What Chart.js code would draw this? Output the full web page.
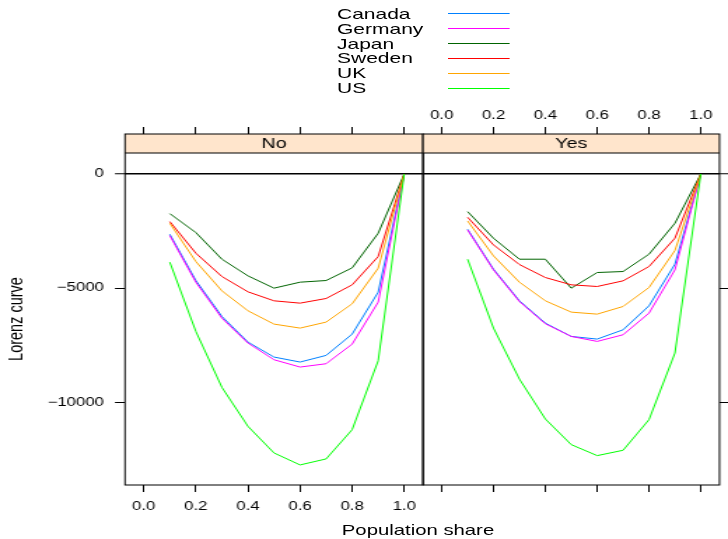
<!DOCTYPE html>
<html>
<head>
<meta charset="utf-8">
<script src="https://cdn.jsdelivr.net/npm/chart.js@4.4.1/dist/chart.umd.min.js"></script>
<style>
  body { margin: 0; background: #fff; overflow: hidden; }
  #wrap { position: absolute; left: 0; top: 0; width: 520px; height: 539px;
          transform: scaleX(1.4); transform-origin: 0 0;
          font-family: 'Liberation Sans', Arial, sans-serif; color: #000; }
  #wrap canvas { position: absolute; left: 0; top: 0; }
  .leg { position: absolute; font-size: 15px; line-height: 15px; white-space: nowrap; }
  .legLine { position: absolute; height: 0; border-top: 1px solid; }
  #xtitle { position: absolute; font-size: 14.5px; white-space: nowrap; transform: translate(-50%, -50%); }
</style>
</head>
<body>
<div id="wrap">
  <div id="legend"></div>
  <canvas id="panelNo" width="520" height="539"></canvas>
  <canvas id="panelYes" width="520" height="539"></canvas>
  <div id="xtitle">Population share</div>
</div>
<script>
// data
const countries = ['Canada', 'Germany', 'Japan', 'Sweden', 'UK', 'US'];
const colors = ['#0080ff', '#ff00ff', '#006400', '#ff0000', '#ffa500', '#00ff00'];
const popShare = [0.1, 0.2, 0.3, 0.4, 0.5, 0.6, 0.7, 0.8, 0.9, 1.0];

const canadaNo  = [-2639, -4666, -6241, -7362, -8018, -8237, -7946, -7012, -5176, 0];
const germanyNo = [-2697, -4739, -6314, -7406, -8136, -8456, -8311, -7450, -5613, 0];
const japanNo   = [-1736, -2566, -3733, -4462, -5001, -4739, -4666, -4112, -2595, 0];
const swedenNo  = [-2085, -3470, -4491, -5161, -5555, -5657, -5453, -4855, -3616, 0];
const ukNo      = [-2158, -3835, -5118, -5992, -6575, -6750, -6487, -5686, -4126, 0];
const usNo      = [-3863, -6896, -9346, -11052, -12218, -12743, -12480, -11198, -8180, 0];

const canadaYes  = [-2420, -4170, -5555, -6532, -7115, -7231, -6824, -5774, -3951, 0];
const germanyYes = [-2449, -4199, -5584, -6561, -7115, -7333, -7042, -6094, -4199, 0];
const japanYes   = [-1648, -2814, -3733, -3733, -5001, -4316, -4272, -3514, -2158, 0];
const swedenYes  = [-1896, -3106, -3966, -4535, -4855, -4928, -4680, -4053, -2814, 0];
const ukYes      = [-2056, -3587, -4739, -5555, -6051, -6138, -5803, -4972, -3353, 0];
const usYes      = [-3733, -6750, -8982, -10731, -11855, -12335, -12101, -10760, -7844, 0];

const shareTicks = [0, 0.2, 0.4, 0.6, 0.8, 1.0];
const lorenzTicks = [0, -5000, -10000];

// layout (real screen px are divided by the horizontal stretch)
const S = 1.4;
const W = 520, H = 539;
const px = x => x / S;
const areaTop = 153, areaBottom = 485, stripH = 19;
const xMin = -0.072, xMax = 1.072;
const yMin = -13622, yMax = 919;

Chart.defaults.font.family = "'Liberation Sans', Arial, sans-serif";
Chart.defaults.color = '#000';

// legend
const legend = document.getElementById('legend');
countries.forEach((c, i) => {
    const y = 13.3 + 14.85 * i;
    legend.insertAdjacentHTML('beforeend',
        `<div class="leg" style="left:${px(337)}px;top:${y - 7.5}px">${c}</div>` +
        `<div class="legLine" style="left:${px(448)}px;top:${Math.round(y)}px;width:${px(509) - px(448)}px;border-top-color:${colors[i]}"></div>`);
});
const xt = document.getElementById('xtitle');
xt.style.left = px(418) + 'px';
xt.style.top = '530px';

// strip + frame
const stripPlugin = {
    id: 'strip',
    afterDraw(chart) {
        const a = chart.chartArea;
        const c = chart.ctx;
        c.save();
        c.fillStyle = '#ffe5cc';
        c.fillRect(a.left, a.top - stripH, a.right - a.left, stripH);
        c.strokeStyle = '#000';
        c.lineWidth = 1;
        c.strokeRect(a.left, a.top - stripH, a.right - a.left, a.bottom - a.top + stripH);
        c.beginPath();
        c.moveTo(a.left, a.top);
        c.lineTo(a.right, a.top);
        c.stroke();
        c.fillStyle = '#000';
        c.font = "14px 'Liberation Sans', Arial, sans-serif";
        c.textAlign = 'center';
        c.textBaseline = 'middle';
        c.fillText(chart.options.plugins.strip.label, (a.left + a.right) / 2, a.top - stripH / 2 + 0.5);
        c.restore();
    }
};

function makeDatasets(series) {
    return series.map((d, i) => ({
        label: countries[i],
        data: popShare.map((x, j) => ({ x: x, y: d[j] })),
        borderColor: colors[i],
        borderWidth: 1,
        pointRadius: 0,
        fill: false,
        tension: 0,
        order: series.length - i
    }));
}

function xAxis(pos, showLabels, height) {
    return {
        type: 'linear',
        position: pos,
        min: xMin,
        max: xMax,
        afterBuildTicks: s => { s.ticks = shareTicks.map(v => ({ value: v })); },
        afterFit: s => { s.height = height; },
        border: { display: false },
        grid: {
            drawOnChartArea: false,
            tickLength: pos === 'top' ? areaTop - 127 : 7,
            tickColor: '#000',
            tickWidth: 1
        },
        ticks: {
            display: showLabels,
            padding: pos === 'top' ? 3.8 : 7.5,
            maxRotation: 0,
            font: { size: 12 },
            callback: v => v.toFixed(1)
        }
    };
}

function yAxis(pos, showLabels, width) {
    return {
        type: 'linear',
        position: pos,
        min: yMin,
        max: yMax,
        afterBuildTicks: s => { s.ticks = lorenzTicks.map(v => ({ value: v })); },
        afterFit: s => { s.width = width; },
        border: { display: false },
        grid: {
            drawOnChartArea: true,
            color: ctx => (ctx.tick && ctx.tick.value === 0) ? '#000' : 'rgba(0,0,0,0)',
            lineWidth: ctx => (ctx.tick && ctx.tick.value === 0) ? 1.5 : 1,
            tickLength: px(10),
            tickColor: '#000',
            tickWidth: 1
        },
        ticks: {
            display: showLabels,
            padding: px(11),
            font: { size: 12 },
            callback: v => v === 0 ? '0' : '\u2212' + Math.abs(v)
        },
        title: {
            display: showLabels,
            text: 'Lorenz curve',
            font: { size: 14.5 },
            padding: { top: 3.4, bottom: 0 }
        }
    };
}

// "No" panel
new Chart(document.getElementById('panelNo'), {
    type: 'line',
    data: { datasets: makeDatasets([canadaNo, germanyNo, japanNo, swedenNo, ukNo, usNo]) },
    options: {
        responsive: false,
        animation: false,
        layout: { padding: { left: 0, right: W - px(423), top: 0, bottom: 0 } },
        plugins: { legend: { display: false }, tooltip: { enabled: false }, strip: { label: 'No' } },
        scales: {
            x: xAxis('bottom', true, H - areaBottom),
            xTop: xAxis('top', false, areaTop),
            y: yAxis('left', true, px(125))
        }
    },
    plugins: [stripPlugin]
});

// "Yes" panel
new Chart(document.getElementById('panelYes'), {
    type: 'line',
    data: { datasets: makeDatasets([canadaYes, germanyYes, japanYes, swedenYes, ukYes, usYes]) },
    options: {
        responsive: false,
        animation: false,
        layout: { padding: { left: px(423), right: 0, top: 0, bottom: 0 } },
        plugins: { legend: { display: false }, tooltip: { enabled: false }, strip: { label: 'Yes' } },
        scales: {
            x: xAxis('bottom', false, H - areaBottom),
            xTop: xAxis('top', true, areaTop),
            y: yAxis('right', false, W - px(719.5))
        }
    },
    plugins: [stripPlugin]
});
</script>
</body>
</html>
